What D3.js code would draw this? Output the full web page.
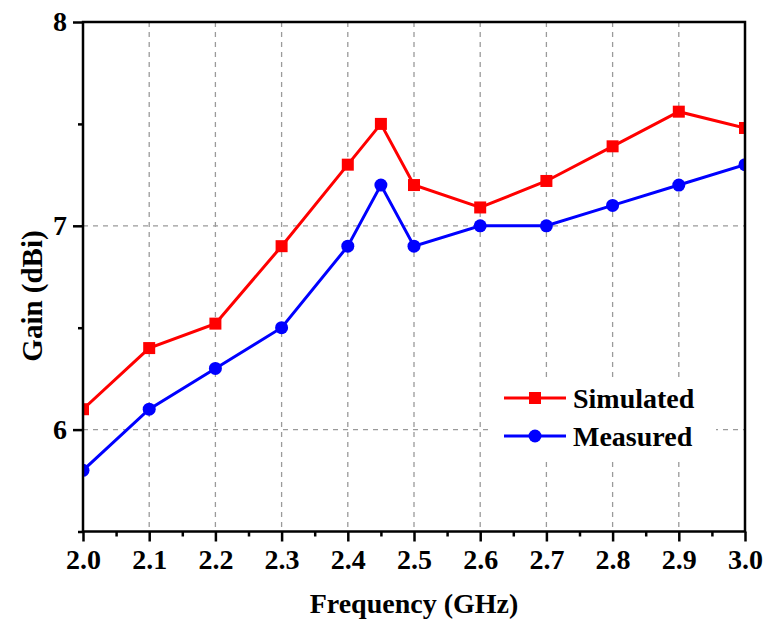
<html>
<head>
<meta charset="UTF-8">
<script src="https://d3js.org/d3.v7.min.js"></script>
<style>
  body { margin: 0; background: #fff; }
  svg text { font-family: "Liberation Serif", "Times New Roman", serif; font-weight: bold; }
</style>
</head>
<body>
<svg id="chart"></svg>
<script>
// data
var freq = [2.0, 2.1, 2.2, 2.3, 2.4, 2.45, 2.5, 2.6, 2.7, 2.8, 2.9, 3.0];
var simulated = [6.1, 6.4, 6.52, 6.9, 7.3, 7.5, 7.2, 7.09, 7.22, 7.39, 7.56, 7.48];
var measured = [5.8, 6.1, 6.3, 6.5, 6.9, 7.2, 6.9, 7.0, 7.0, 7.1, 7.2, 7.3];
var xTicks = [2.0, 2.1, 2.2, 2.3, 2.4, 2.5, 2.6, 2.7, 2.8, 2.9, 3.0];
var xMinor = [2.05, 2.15, 2.25, 2.35, 2.45, 2.55, 2.65, 2.75, 2.85, 2.95];
var yTicks = [6, 7, 8];
var yMinor = [5.5, 6.5, 7.5];

var width = 765, height = 623;
var pLeft = 83, pRight = 745, pTop = 22, pBottom = 531.5;

var svg = d3.select('#chart').attr('width', width).attr('height', height);

var x = d3.scaleLinear().domain([2.0, 3.0]).range([pLeft, pRight]);
var y = d3.scaleLinear().domain([5.5, 8]).range([pBottom, pTop]);

// grid
svg.append('g').selectAll('line')
  .data(xTicks.slice(1, -1))
  .enter().append('line')
  .attr('x1', d => x(d)).attr('x2', d => x(d))
  .attr('y1', pTop).attr('y2', pBottom)
  .attr('stroke', '#9a9a9a').attr('stroke-width', 1.3)
  .attr('stroke-dasharray', '5,5');
svg.append('g').selectAll('line')
  .data([6, 7])
  .enter().append('line')
  .attr('x1', pLeft).attr('x2', pRight)
  .attr('y1', d => y(d)).attr('y2', d => y(d))
  .attr('stroke', '#9a9a9a').attr('stroke-width', 1.3)
  .attr('stroke-dasharray', '5,5');

// legend background hides grid
svg.append('rect')
  .attr('x', 488).attr('y', 378).attr('width', 228).attr('height', 80)
  .attr('fill', '#fff');

svg.append('clipPath').attr('id', 'clip')
  .append('rect').attr('x', pLeft).attr('y', pTop)
  .attr('width', pRight - pLeft).attr('height', pBottom - pTop);

var plot = svg.append('g').attr('clip-path', 'url(#clip)');

var series = [
  {name: 'Simulated', values: simulated, color: '#ff0000', marker: 'square'},
  {name: 'Measured', values: measured, color: '#0000ff', marker: 'circle'}
];

var line = d3.line().x(d => x(d[0])).y(d => y(d[1]));

series.forEach(function (s) {
  var pts = freq.map((f, i) => [f, s.values[i]]);
  plot.append('path')
    .datum(pts)
    .attr('d', line)
    .attr('fill', 'none')
    .attr('stroke', s.color)
    .attr('stroke-width', 3);
  if (s.marker === 'square') {
    plot.selectAll('rect.m-' + s.name)
      .data(pts).enter().append('rect')
      .attr('x', d => x(d[0]) - 6).attr('y', d => y(d[1]) - 6)
      .attr('width', 12).attr('height', 12)
      .attr('fill', s.color);
  } else {
    plot.selectAll('circle.m-' + s.name)
      .data(pts).enter().append('circle')
      .attr('cx', d => x(d[0])).attr('cy', d => y(d[1]))
      .attr('r', 6.5)
      .attr('fill', s.color);
  }
});

// axes
var xAxis = svg.append('g').attr('transform', 'translate(0,' + pBottom + ')')
  .call(d3.axisBottom(x).tickValues(xTicks).tickFormat(d3.format('.1f')).tickSize(10).tickPadding(8));
var xAxisMinor = svg.append('g').attr('transform', 'translate(0,' + pBottom + ')')
  .call(d3.axisBottom(x).tickValues(xMinor).tickFormat('').tickSize(5));
var yAxis = svg.append('g').attr('transform', 'translate(' + pLeft + ',0)')
  .call(d3.axisLeft(y).tickValues(yTicks).tickFormat(d3.format('d')).tickSize(10).tickPadding(6));
var yAxisMinor = svg.append('g').attr('transform', 'translate(' + pLeft + ',0)')
  .call(d3.axisLeft(y).tickValues(yMinor).tickFormat('').tickSize(5));

[xAxis, xAxisMinor, yAxis, yAxisMinor].forEach(function (a) {
  a.select('.domain').remove();
  a.selectAll('.tick line').attr('stroke', '#000').attr('stroke-width', 2.5);
  a.selectAll('.tick text').attr('fill', '#000').style('font-size', '28px');
});

// frame
svg.append('rect')
  .attr('x', pLeft).attr('y', pTop)
  .attr('width', pRight - pLeft).attr('height', pBottom - pTop)
  .attr('fill', 'none').attr('stroke', '#000').attr('stroke-width', 2.5);

// axis titles
svg.append('text')
  .attr('x', (pLeft + pRight) / 2).attr('y', 613)
  .attr('text-anchor', 'middle')
  .style('font-size', '28px')
  .text('Frequency (GHz)');
svg.append('text')
  .attr('transform', 'translate(42,296) rotate(-90)')
  .attr('text-anchor', 'middle')
  .style('font-size', '29px')
  .text('Gain (dBi)');

// legend
var legend = svg.append('g');
series.forEach(function (s, i) {
  var ly = 398 + i * 38;
  legend.append('line')
    .attr('x1', 504).attr('x2', 566).attr('y1', ly).attr('y2', ly)
    .attr('stroke', s.color).attr('stroke-width', 3);
  if (s.marker === 'square') {
    legend.append('rect').attr('x', 529).attr('y', ly - 6)
      .attr('width', 12).attr('height', 12).attr('fill', s.color);
  } else {
    legend.append('circle').attr('cx', 535).attr('cy', ly).attr('r', 6.5).attr('fill', s.color);
  }
  legend.append('text')
    .attr('x', 573).attr('y', ly + 10)
    .style('font-size', '28px')
    .text(s.name);
});
</script>
</body>
</html>
